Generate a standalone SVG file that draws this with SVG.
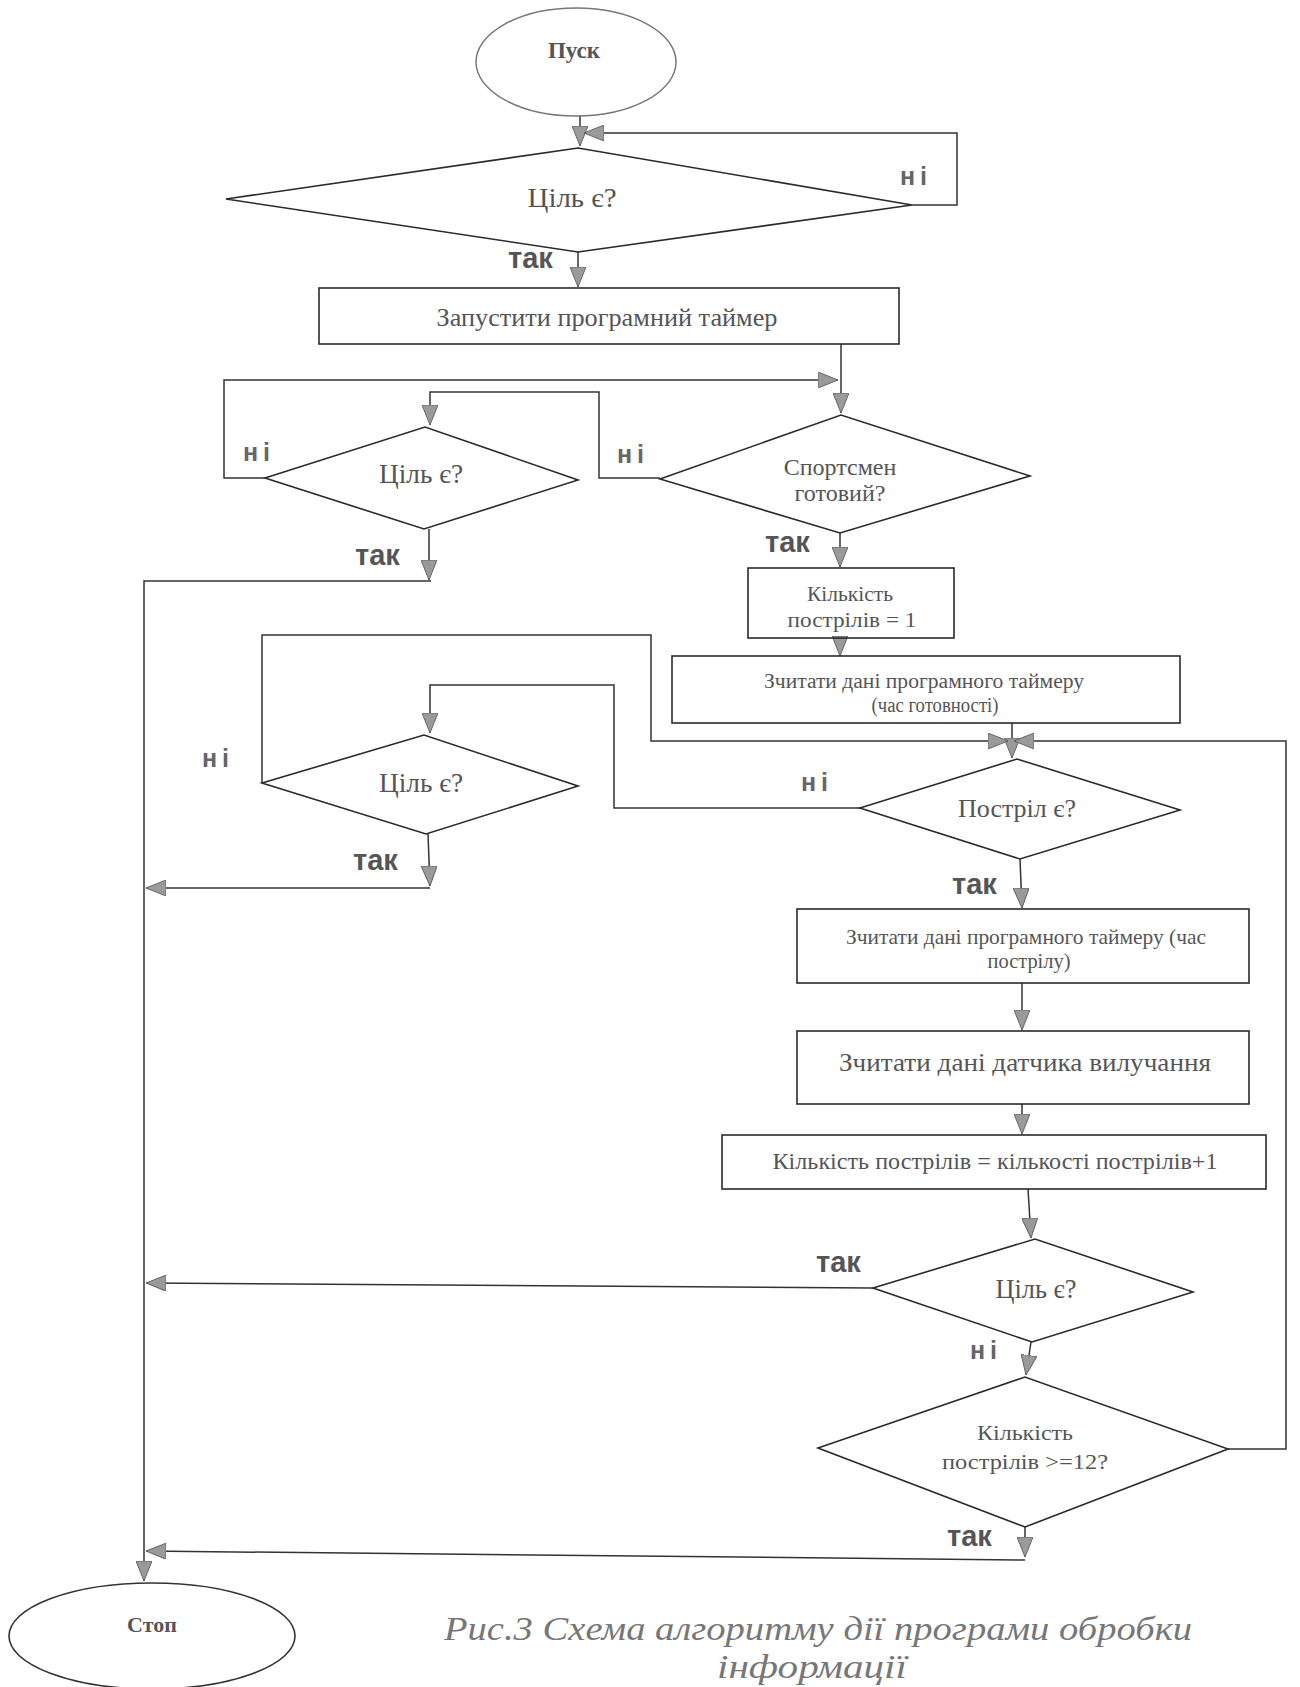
<svg xmlns="http://www.w3.org/2000/svg" width="1300" height="1687" viewBox="0 0 1300 1687">
<style>
.shape{fill:none;stroke:#2a2a2a;stroke-width:1.6}
.conn{fill:none;stroke:#333;stroke-width:1.5}
.t{font-family:"Liberation Serif","Times New Roman",serif;fill:#555;text-anchor:middle}
.lbl{font-family:"Liberation Sans",Arial,sans-serif;font-weight:bold;fill:#555}
.ni{font-family:"Liberation Sans",Arial,sans-serif;font-weight:bold;fill:#666;font-size:25px;letter-spacing:5px}
.cap{font-family:"Liberation Serif","Times New Roman",serif;font-style:italic;fill:#777;text-anchor:middle}
</style>
<defs>
<marker id="ah" viewBox="0 0 20 16" refX="20" refY="8" markerWidth="20" markerHeight="16" markerUnits="userSpaceOnUse" orient="auto">
<path d="M0,0 L20,8 L0,16 Z" fill="#9a9a9a" stroke="#666" stroke-width="1"/>
</marker>
</defs>
<rect width="1300" height="1687" fill="#fff"/>
<g id="connectors">
<path class="conn" d="M580,116 L580,146" marker-end="url(#ah)"/>
<path class="conn" d="M912,205 L957,205 L957,133 L584,133" marker-end="url(#ah)"/>
<path class="conn" d="M578,252 L578,287" marker-end="url(#ah)"/>
<path class="conn" d="M841,344 L841,413" marker-end="url(#ah)"/>
<path class="conn" d="M265,478 L224,478 L224,380 L838,380" marker-end="url(#ah)"/>
<path class="conn" d="M660,478 L599,478 L599,392 L430,392 L430,425" marker-end="url(#ah)"/>
<path class="conn" d="M429,529 L429,580" marker-end="url(#ah)"/>
<path class="conn" d="M431,581 L144,581 L144,1581" marker-end="url(#ah)"/>
<path class="conn" d="M840,533 L840,567" marker-end="url(#ah)"/>
<path class="conn" d="M840,638 L840,656" marker-end="url(#ah)"/>
<path class="conn" d="M1012,723 L1012,758" marker-end="url(#ah)"/>
<path class="conn" d="M262,783 L262,635 L651,635 L651,741 L1008,741" marker-end="url(#ah)"/>
<path class="conn" d="M860,808 L614,808 L614,685 L430,685 L430,733" marker-end="url(#ah)"/>
<path class="conn" d="M428,834 L430,886" marker-end="url(#ah)"/>
<path class="conn" d="M430,888 L146,888" marker-end="url(#ah)"/>
<path class="conn" d="M1020,859 L1022,908" marker-end="url(#ah)"/>
<path class="conn" d="M1022,983 L1022,1030" marker-end="url(#ah)"/>
<path class="conn" d="M1022,1104 L1022,1134" marker-end="url(#ah)"/>
<path class="conn" d="M1028,1189 L1031,1238" marker-end="url(#ah)"/>
<path class="conn" d="M873,1288 L146,1283" marker-end="url(#ah)"/>
<path class="conn" d="M1031,1342 L1026,1375" marker-end="url(#ah)"/>
<path class="conn" d="M1228,1449 L1286,1449 L1286,741 L1014,741" marker-end="url(#ah)"/>
<path class="conn" d="M1025,1527 L1025,1557" marker-end="url(#ah)"/>
<path class="conn" d="M1025,1560 L146,1551" marker-end="url(#ah)"/>
</g>
<g id="labels">
<text class="lbl" x="508" y="268" font-size="29">так</text>
<text class="lbl" x="355" y="565" font-size="29">так</text>
<text class="lbl" x="765" y="552" font-size="29">так</text>
<text class="lbl" x="353" y="870" font-size="29">так</text>
<text class="lbl" x="952" y="894" font-size="29">так</text>
<text class="lbl" x="816" y="1272" font-size="29">так</text>
<text class="lbl" x="947" y="1546" font-size="29">так</text>
<text class="ni" x="900" y="185">ні</text>
<text class="ni" x="243" y="461">ні</text>
<text class="ni" x="617" y="463">ні</text>
<text class="ni" x="202" y="767">ні</text>
<text class="ni" x="801" y="791">ні</text>
<text class="ni" x="970" y="1359">ні</text>
</g>
<g id="start">
<ellipse cx="576" cy="62" rx="100" ry="54" fill="none" stroke="#777" stroke-width="1.5"/>
<text class="t" x="574" y="58" font-size="23" font-weight="bold" fill="#666">Пуск</text>
</g>
<g id="d1">
<polygon class="shape" points="226,199 578,148 912,205 578,252"/>
<text class="t" x="572" y="207" font-size="27" fill="#777" textLength="89" lengthAdjust="spacingAndGlyphs">Ціль є?</text>
</g>
<g id="r1">
<rect class="shape" x="319" y="288" width="580" height="56"/>
<text class="t" x="607" y="326" font-size="26" textLength="341" lengthAdjust="spacingAndGlyphs">Запустити програмний таймер</text>
</g>
<g id="d2">
<polygon class="shape" points="660,479 841,415 1030,476 840,533"/>
<text class="t" x="840" y="475" font-size="24" fill="#666">Спортсмен</text>
<text class="t" x="840" y="501" font-size="24" fill="#666">готовий?</text>
</g>
<g id="d3">
<polygon class="shape" points="265,478 425,427 578,480 424,529"/>
<text class="t" x="421" y="483" font-size="27" textLength="84" lengthAdjust="spacingAndGlyphs">Ціль є?</text>
</g>
<g id="r2">
<rect class="shape" x="748" y="568" width="206" height="70"/>
<text class="t" x="850" y="601" font-size="21" textLength="86" lengthAdjust="spacingAndGlyphs">Кількість</text>
<text class="t" x="852" y="627" font-size="21" textLength="129" lengthAdjust="spacingAndGlyphs">пострілів = 1</text>
</g>
<g id="r3">
<rect class="shape" x="672" y="656" width="508" height="67"/>
<text class="t" x="924" y="688" font-size="20" textLength="320" lengthAdjust="spacingAndGlyphs">Зчитати дані програмного таймеру</text>
<text class="t" x="935" y="712" font-size="20" textLength="127" lengthAdjust="spacingAndGlyphs">(час готовності)</text>
</g>
<g id="d4">
<polygon class="shape" points="262,783 424,735 578,786 426,834"/>
<text class="t" x="421" y="792" font-size="27" textLength="84" lengthAdjust="spacingAndGlyphs">Ціль є?</text>
</g>
<g id="d5">
<polygon class="shape" points="860,808 1017,759 1180,810 1020,859"/>
<text class="t" x="1017" y="817" font-size="26">Постріл є?</text>
</g>
<g id="r4">
<rect class="shape" x="797" y="909" width="452" height="74"/>
<text class="t" x="1026" y="944" font-size="21" textLength="360" lengthAdjust="spacingAndGlyphs">Зчитати дані програмного таймеру (час</text>
<text class="t" x="1029" y="968" font-size="21" textLength="83" lengthAdjust="spacingAndGlyphs">пострілу)</text>
</g>
<g id="r5">
<rect class="shape" x="797" y="1031" width="452" height="73"/>
<text class="t" x="1025" y="1071" font-size="25" textLength="372" lengthAdjust="spacingAndGlyphs">Зчитати дані датчика вилучання</text>
</g>
<g id="r6">
<rect class="shape" x="722" y="1135" width="544" height="54"/>
<text class="t" x="995" y="1169" font-size="23" textLength="445" lengthAdjust="spacingAndGlyphs">Кількість пострілів = кількості пострілів+1</text>
</g>
<g id="d6">
<polygon class="shape" points="873,1288 1035,1239 1193,1292 1032,1342"/>
<text class="t" x="1036" y="1298" font-size="27" textLength="81" lengthAdjust="spacingAndGlyphs">Ціль є?</text>
</g>
<g id="d7">
<polygon class="shape" points="818,1448 1025,1377 1228,1449 1025,1527"/>
<text class="t" x="1025" y="1440" font-size="22" textLength="96" lengthAdjust="spacingAndGlyphs">Кількість</text>
<text class="t" x="1025" y="1469" font-size="22" textLength="166" lengthAdjust="spacingAndGlyphs">пострілів &gt;=12?</text>
</g>
<g id="stop">
<ellipse cx="152" cy="1636" rx="143" ry="53" fill="none" stroke="#333" stroke-width="1.6"/>
<text class="t" x="152" y="1632" font-size="22" font-weight="bold" fill="#777">Стоп</text>
</g>
<g id="caption">
<text class="cap" x="818" y="1640" font-size="34" textLength="748" lengthAdjust="spacingAndGlyphs">Рис.3 Схема алгоритму дії програми обробки</text>
<text class="cap" x="812" y="1678" font-size="34" textLength="190" lengthAdjust="spacingAndGlyphs">інформації</text>
</g>
</svg>
